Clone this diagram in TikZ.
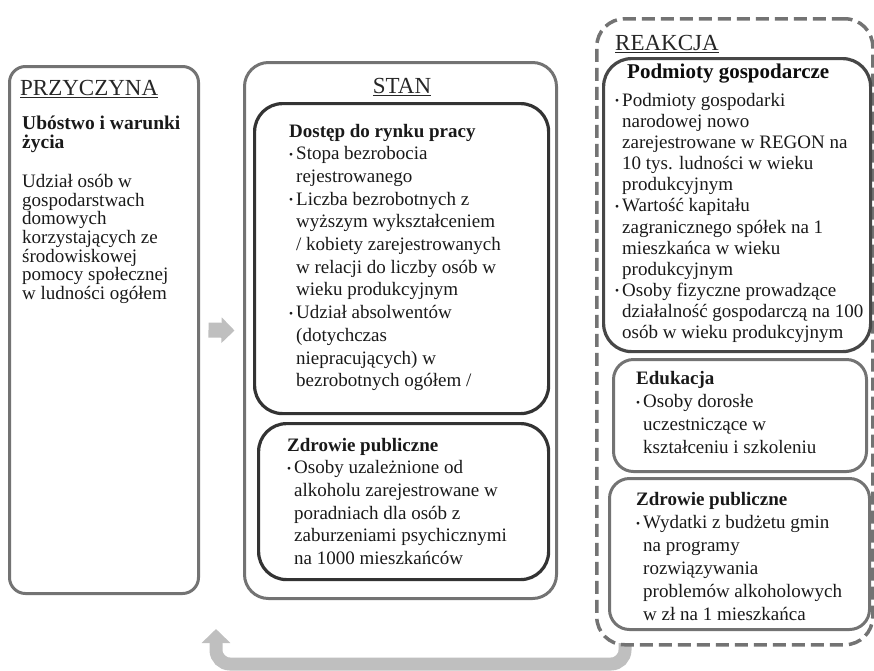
\documentclass[tikz,border=0pt]{standalone}
\usepackage{fontspec}
\setmainfont{Liberation Serif}
\usepackage{graphicx}
\usetikzlibrary{arrows.meta,positioning}

\newcommand{\pkt}{\makebox[7pt][l]{\raisebox{1.5pt}{\scalebox{0.6}{\textbullet}}}}

\begin{document}
\begin{tikzpicture}[x=1pt, y=-1pt,
			ramka/.style={draw=black!55, line width=3pt, rounded corners=16pt, inner sep=0pt, anchor=north west},
			ramkaC/.style={draw=black!80, line width=3.2pt, rounded corners=28pt, inner sep=0pt, anchor=north west},
			kreski/.style={draw=black!55, line width=3.5pt, dash pattern=on 13pt off 6pt, rounded corners=28pt, inner sep=0pt, anchor=north west},
			tyt/.style={font=\fontsize{23}{23}\selectfont, text=black!85, anchor=west, inner sep=0pt},
			nagl/.style={font=\bfseries\fontsize{21}{21}\selectfont, text=black!95, anchor=west, inner sep=0pt},
			lista/.style={font=\fontsize{19}{22.7}\selectfont, text=black!90, anchor=north west, inner sep=0pt},
			blok/.style={draw=black!25, line width=15pt, -{Triangle[width=25pt,length=13pt]}},
			powrot/.style={draw=black!25, line width=13pt, rounded corners=14pt, -{Triangle[width=28pt,length=14pt]}}
			]
			\useasboundingbox (0,0) rectangle (874,670);
			
			% --------------------------------------------------------------------
			% return arrow (bottom)
			% --------------------------------------------------------------------
			\coordinate (powrotStart) at (625,643);
			\coordinate (powrotKoniec) at (216,629);
			\draw[powrot] (powrotStart) -- ++(0,21) -| (powrotKoniec);
			
			% --------------------------------------------------------------------
			% PRZYCZYNA
			% --------------------------------------------------------------------
			\node[ramka, minimum width=189, minimum height=527] (przyczyna) at (8,65) {};
			\node[tyt] (przyczynaT) at (20,89) {\underline{PRZYCZYNA}};
			\node[lista, font=\bfseries\fontsize{19.5}{18.5}\selectfont] (ubostwo) at (22,115.5) {%
				\begin{tabular}{@{}l@{}}
					Ubóstwo i warunki\\
					życia
				\end{tabular}};
			\node[lista, font=\fontsize{19}{18.3}\selectfont] (udzial) at (22,174) {%
				\begin{tabular}{@{}l@{}}
					Udział osób w\\
					gospodarstwach\\
					domowych\\
					korzystających ze\\
					środowiskowej\\
					pomocy społecznej\\
					w ludności ogółem
				\end{tabular}};
			
			% --------------------------------------------------------------------
			% STAN
			% --------------------------------------------------------------------
			\node[ramka, rounded corners=24pt, minimum width=312, minimum height=536] (stan) at (243,61) {};
			\node[tyt, anchor=center] (stanT) at (402,87) {\underline{STAN}};
			
			\draw[blok] ([xshift=8.5pt]przyczyna.east) -- ([xshift=-8.5pt]stan.west);
			
			\node[ramkaC, minimum width=294, minimum height=310] (dostep) at (253,102) {};
			\node[lista] (dostepL) at (289,121) {%
				\begin{tabular}{@{}l@{}l@{}}
					\multicolumn{2}{@{}l@{}}{\textbf{Dostęp do rynku pracy}}\\
					\pkt & Stopa bezrobocia\\
					& rejestrowanego\\
					\pkt & Liczba bezrobotnych z\\
					& wyższym wykształceniem\\
					& / kobiety zarejestrowanych\\
					& w relacji do liczby osób w\\
					& wieku produkcyjnym\\
					\pkt & Udział absolwentów\\
					& (dotychczas\\
					& niepracujących) w\\
					& bezrobotnych ogółem /
				\end{tabular}};
			
			\node[ramkaC, minimum width=290, minimum height=156] (zdrowieS) at (257,422) {};
			\node[lista] (zdrowieSL) at (287,435) {%
				\begin{tabular}{@{}l@{}l@{}}
					\multicolumn{2}{@{}l@{}}{\textbf{Zdrowie publiczne}}\\
					\pkt & Osoby uzależnione od\\
					& alkoholu zarejestrowane w\\
					& poradniach dla osób z\\
					& zaburzeniami psychicznymi\\
					& na 1000 mieszkańców
				\end{tabular}};
			
			% --------------------------------------------------------------------
			% REAKCJA
			% --------------------------------------------------------------------
			\node[kreski, minimum width=276, minimum height=626] (reakcja) at (595,17) {};
			\node[tyt] (reakcjaT) at (615,44) {\underline{REAKCJA}};
			
			\node[ramkaC, draw=black!72, minimum width=267, minimum height=293] (podmioty) at (602,57) {};
			\node[nagl] (podmiotyT) at (627,74) {Podmioty gospodarcze};
			\node[lista, font=\fontsize{19}{21.1}\selectfont] (podmiotyL) at (615,91.5) {%
				\begin{tabular}{@{}l@{}l@{}}
					\pkt & Podmioty gospodarki\\
					& narodowej nowo\\
					& zarejestrowane w REGON na\\
					& 10 tys. ludności w wieku\\
					& produkcyjnym\\
					\pkt & Wartość kapitału\\
					& zagranicznego spółek na 1\\
					& mieszkańca w wieku\\
					& produkcyjnym\\
					\pkt & Osoby fizyczne prowadzące\\
					& działalność gospodarczą na 100\\
					& osób w wieku produkcyjnym
				\end{tabular}};
			
			\node[ramka, rounded corners=20pt, minimum width=253, minimum height=112] (edukacja) at (612,358) {};
			\node[lista, font=\fontsize{19}{23}\selectfont] (edukacjaL) at (636,368.5) {%
				\begin{tabular}{@{}l@{}l@{}}
					\multicolumn{2}{@{}l@{}}{\textbf{Edukacja}}\\
					\pkt & Osoby dorosłe\\
					& uczestniczące w\\
					& kształceniu i szkoleniu
				\end{tabular}};
			
			\node[ramka, rounded corners=20pt, minimum width=260, minimum height=151] (zdrowieR) at (608,477) {};
			\node[lista, font=\fontsize{19}{23}\selectfont] (zdrowieRL) at (636,489.5) {%
				\begin{tabular}{@{}l@{}l@{}}
					\multicolumn{2}{@{}l@{}}{\textbf{Zdrowie publiczne}}\\
					\pkt & Wydatki z budżetu gmin\\
					& na programy\\
					& rozwiązywania\\
					& problemów alkoholowych\\
					& w zł na 1 mieszkańca
				\end{tabular}};
			
		\end{tikzpicture}
\end{document}
